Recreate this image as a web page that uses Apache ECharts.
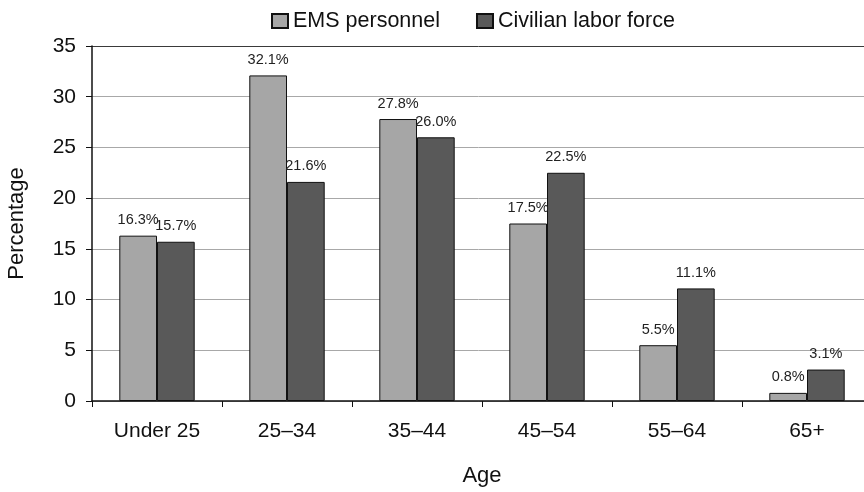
<!DOCTYPE html>
<html><head><meta charset="utf-8">
<script src="https://cdn.jsdelivr.net/npm/echarts@6/dist/echarts.min.js"></script>
<style>html,body{margin:0;padding:0;background:#fff}#c{width:864px;height:492px}</style>
</head><body><div id="c"></div>
<script>
const categories = ['Under 25', '25–34', '35–44', '45–54', '55–64', '65+'];
const emsPersonnel = [16.3, 32.1, 27.8, 17.5, 5.5, 0.8];
const civilianLaborForce = [15.7, 21.6, 26.0, 22.5, 11.1, 3.1];
const seriesNames = ['EMS personnel', 'Civilian labor force'];
const yTicks = [0, 5, 10, 15, 20, 25, 30, 35];

const font = 'Liberation Sans, Arial, sans-serif';
const chart = echarts.init(document.getElementById('c'));
const labelCfg = {show: true, position: 'top', distance: 8, fontSize: 14.5, color: '#222', fontFamily: font,
  formatter: p => p.value.toFixed(1) + '%'};
chart.setOption({
  animation: false,
  textStyle: {fontFamily: font},
  legend: {top: 5, left: 266, itemWidth: 16, itemHeight: 14, itemGap: 36, icon: 'rect',
    textStyle: {fontSize: 21.5, color: '#111', fontFamily: font},
    data: seriesNames},
  grid: {left: 92, top: 46, width: 780, height: 355, containLabel: false, outerBoundsMode: 'none'},
  xAxis: {type: 'category', data: categories,
    name: 'Age', nameLocation: 'middle', nameGap: 64,
    nameTextStyle: {fontSize: 22, color: '#111', fontFamily: font},
    axisLine: {lineStyle: {color: '#111', width: 1.5}},
    axisTick: {show: true, length: 6, lineStyle: {color: '#111'}},
    axisLabel: {fontSize: 21, color: '#111', margin: 20, fontFamily: font}},
  yAxis: {type: 'value', min: 0, max: 35, interval: 5,
    name: 'Percentage', nameLocation: 'middle', nameGap: 64, nameRotate: 90,
    nameTextStyle: {fontSize: 22, color: '#111', fontFamily: font},
    axisLine: {show: true, lineStyle: {color: '#111', width: 1.5}},
    axisTick: {show: true, length: 6, lineStyle: {color: '#111'}},
    axisLabel: {fontSize: 21, color: '#111', margin: 16, fontFamily: font},
    splitLine: {show: true, lineStyle: {color: yTicks.map((t, i) => i === yTicks.length - 1 ? '#3a3a3a' : '#a8a8a8'), width: 1}}},
  series: [
    {name: seriesNames[0], type: 'bar', data: emsPersonnel, barGap: '0%', barCategoryGap: '42%',
      itemStyle: {color: '#a6a6a6', borderColor: '#111', borderWidth: 1}, label: labelCfg},
    {name: seriesNames[1], type: 'bar', data: civilianLaborForce, barGap: '0%', barCategoryGap: '42%',
      itemStyle: {color: '#595959', borderColor: '#111', borderWidth: 1}, label: labelCfg}
  ]
});
</script></body></html>
